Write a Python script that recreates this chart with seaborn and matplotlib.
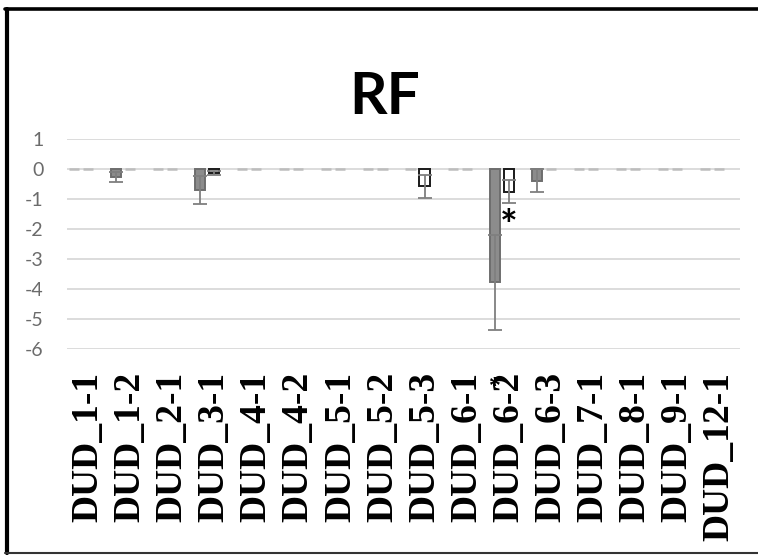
import numpy as np
import pandas as pd
import matplotlib
matplotlib.use('Agg')
import matplotlib.pyplot as plt
import matplotlib.transforms as mtrans
from matplotlib.lines import Line2D
import seaborn as sns

# data
categories = ['DUD_1-1', 'DUD_1-2', 'DUD_2-1', 'DUD_3-1', 'DUD_4-1', 'DUD_4-2',
              'DUD_5-1', 'DUD_5-2', 'DUD_5-3', 'DUD_6-1', 'DUD_6-2', 'DUD_6-3',
              'DUD_7-1', 'DUD_8-1', 'DUD_9-1', 'DUD_12-1']
grey_vals = [0, -0.25, 0, -0.68, 0, 0, 0, 0, 0, 0, -3.76, -0.38, 0, 0, 0, 0]
grey_err = [0, 0.17, 0, 0.46, 0, 0, 0, 0, 0, 0, 1.58, 0.38, 0, 0, 0, 0]
white_vals = [0, 0, 0, -0.12, 0, 0, 0, 0, -0.57, 0, -0.74, 0, 0, 0, 0, 0]
white_err = [0, 0, 0, 0.07, 0, 0, 0, 0, 0.37, 0, 0.37, 0, 0, 0, 0, 0]
series = ['S1', 'S2', 'S3']
yticks = [1, 0, -1, -2, -3, -4, -5, -6]

df = pd.DataFrame({
    'cat': categories * 2,
    'val': grey_vals + white_vals,
    'err': grey_err + white_err,
    'series': [series[0]] * len(categories) + [series[1]] * len(categories),
})

sns.set_style('white')
plt.rcParams['font.family'] = ['Lato', 'DejaVu Sans']

fig = plt.figure(figsize=(7.58, 5.55), dpi=100)
ax = fig.add_axes([67 / 758, 1 - 349.3 / 555, 673 / 758, 210 / 555])

sns.barplot(data=df, x='cat', y='val', hue='series', hue_order=series,
            palette={'S1': '#8c8c8c', 'S2': '#ffffff', 'S3': '#ffffff'},
            width=1.0, errorbar=None, legend=False, ax=ax, zorder=3)

edge = {0: '#6e6e6e', 1: '#1a1a1a'}
errs = {0: grey_err, 1: white_err}
bar_w = 0.24
for k, cont in enumerate(ax.containers[:2]):
    for i, bar in enumerate(cont):
        c = bar.get_x() + bar.get_width() / 2
        bar.set_width(bar_w)
        bar.set_x(c - bar_w / 2)
        h = bar.get_height()
        if h == 0:
            bar.set_edgecolor('#bdbdbd')
            bar.set_linewidth(1.8)
            continue
        bar.set_edgecolor(edge[k])
        bar.set_linewidth(1.4)
        e = errs[k][i]
        if e > 0:
            ax.errorbar(c, h, yerr=e, fmt='none', ecolor='#7f7f7f',
                        elinewidth=1.3, capsize=5, capthick=1.3, zorder=4)

ax.set_ylim(-6, 1)
ax.set_xlim(-0.5, len(categories) - 0.5)
ax.set_yticks(yticks)
ax.set_yticklabels([str(t) for t in yticks], color='#6b6b6b', fontsize=14)
ax.tick_params(axis='y', length=0, pad=17)
ax.grid(axis='y', color='#d9d9d9', linewidth=1.3, zorder=0)
ax.set_axisbelow(True)
for s in ax.spines.values():
    s.set_visible(False)

ax.set_xlabel('')
ax.set_ylabel('')
ax.set_xticks(range(len(categories)))
ax.set_xticklabels(categories, rotation=90, va='top', ha='center',
                   family='Liberation Serif', fontweight='bold', fontsize=27,
                   color='black')
ax.tick_params(axis='x', length=0, pad=16)

# significance marks
ax.text(10, -1.95, '*', ha='center', va='center', fontsize=30,
        fontweight='bold', color='black', zorder=5)
trans = mtrans.blended_transform_factory(ax.transData, fig.transFigure)
ax.text(9.65, 1 - 386 / 555, '*', transform=trans, ha='center', va='center',
        fontsize=17, fontweight='bold', family='Liberation Serif', color='black')

fig.text(0.508, 1 - 98 / 555, 'RF',
         family=['Liberation Sans Narrow', 'Lato', 'DejaVu Sans'],
         ha='center', va='center', fontsize=42, fontweight='bold', color='black')

# outer frame
fig.add_artist(Line2D([7 / 758, 7 / 758], [1 - 9 / 555, 1 - 553 / 555],
                      transform=fig.transFigure, color='black', linewidth=3))
fig.add_artist(Line2D([5 / 758, 1.0], [1 - 9 / 555, 1 - 9 / 555],
                      transform=fig.transFigure, color='black', linewidth=2.6))
fig.add_artist(Line2D([5 / 758, 1.0], [1 - 553 / 555, 1 - 553 / 555],
                      transform=fig.transFigure, color='#333333', linewidth=1.5))

fig.savefig('out.png', dpi=100)
